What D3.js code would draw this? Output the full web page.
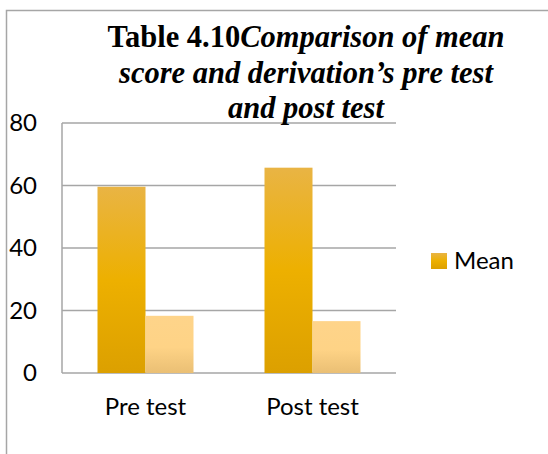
<!DOCTYPE html>
<html>
<head>
<meta charset="utf-8">
<script src="https://cdn.jsdelivr.net/npm/d3@7"></script>
<style>
  body { margin: 0; background: #fff; }
  text { font-family: Lato, "Open Sans", sans-serif; fill: #000; }
  .title { font-family: "Liberation Serif", "Times New Roman", serif; font-weight: bold; }
</style>
</head>
<body>
<div id="dataviz_area"></div>
<script>
var categories = ["Pre test", "Post test"];
var series = ["Mean", "SD"];
var mean_values = [59.6, 65.7];
var sd_values = [18.3, 16.6];
var y_ticks = [0, 20, 40, 60, 80];
var legend_items = ["Mean"];

var W = 548, H = 454;
var margin = {top: 123, right: 152, bottom: 81, left: 62},
    width = W - margin.left - margin.right,
    height = H - margin.top - margin.bottom;

var svg = d3.select("#dataviz_area")
    .append("svg")
    .attr("width", W)
    .attr("height", H);

// gradients for the two series
var defs = svg.append("defs");
var grads = [
    {id: "g_mean", stops: [[0, "#e9b444"], [0.5, "#edb000"], [1, "#dca000"]]},
    {id: "g_sd", stops: [[0, "#fed48a"], [0.55, "#fed386"], [1, "#eabf74"]]}
];
grads.forEach(function(g) {
    var lg = defs.append("linearGradient")
	.attr("id", g.id)
	.attr("x1", 0).attr("y1", 0)
	.attr("x2", 0).attr("y2", 1);
    g.stops.forEach(function(s) {
	lg.append("stop").attr("offset", s[0]).attr("stop-color", s[1]);
    });
});

// outer frame, only the left and top show
svg.append("rect")
    .attr("x", 6.5).attr("y", 10.5)
    .attr("width", 700).attr("height", 600)
    .attr("fill", "none")
    .attr("stroke", "#a6a6a6")
    .attr("stroke-width", 1.5);

var canvas = svg.append("g")
    .attr("transform", "translate(" + margin.left + "," + margin.top + ")");

var scale_x = d3.scaleBand()
    .domain(categories)
    .range([0, width]);

var scale_y = d3.scaleLinear()
    .domain([0, 80])
    .range([height, 0]);

var scale_s = d3.scaleBand()
    .domain(series)
    .range([0, 96]);

// gridlines
canvas.append("g")
    .selectAll("line")
    .data(y_ticks)
    .enter()
    .append("line")
    .attr("x1", 0)
    .attr("x2", width)
    .attr("y1", function(d) { return scale_y(d) })
    .attr("y2", function(d) { return scale_y(d) })
    .attr("stroke", "#a6a6a6")
    .attr("stroke-width", 1.5);

canvas.append("line")
    .attr("x1", 0).attr("x2", 0)
    .attr("y1", scale_y(80)).attr("y2", scale_y(0))
    .attr("stroke", "#a6a6a6")
    .attr("stroke-width", 1.5);

// tick labels
canvas.append("g")
    .selectAll("text")
    .data(y_ticks)
    .enter()
    .append("text")
    .attr("x", -25)
    .attr("y", function(d) { return scale_y(d) })
    .attr("dy", "0.35em")
    .attr("text-anchor", "end")
    .attr("font-size", 24)
    .text(function(d) { return d; });

// bars
var rows = categories.map(function(c, i) {
    return [{cat: c, s: "Mean", v: mean_values[i], fill: "url(#g_mean)"},
	    {cat: c, s: "SD", v: sd_values[i], fill: "url(#g_sd)"}];
});

canvas.append("g")
    .selectAll("g")
    .data(rows)
    .enter()
    .append("g")
    .attr("transform", function(d) {
	return "translate(" + (scale_x(d[0].cat) + scale_x.bandwidth() / 2 - 48) + ",0)";
    })
    .selectAll("rect")
    .data(function(d) { return d; })
    .enter()
    .append("rect")
    .attr("x", function(d) { return scale_s(d.s) })
    .attr("width", scale_s.bandwidth())
    .attr("y", function(d) { return scale_y(d.v) })
    .attr("height", function(d) { return scale_y(0) - scale_y(d.v) })
    .attr("fill", function(d) { return d.fill });

// category labels
canvas.append("g")
    .selectAll("text")
    .data(categories)
    .enter()
    .append("text")
    .attr("x", function(d) { return scale_x(d) + scale_x.bandwidth() / 2 })
    .attr("y", height + 42)
    .attr("text-anchor", "middle")
    .attr("font-size", 24)
    .text(function(d) { return d; });

// legend
var legend = svg.append("g")
    .attr("transform", "translate(431,253)");
legend.selectAll("rect")
    .data(legend_items)
    .enter()
    .append("rect")
    .attr("width", 16).attr("height", 16)
    .attr("fill", "url(#g_mean)");
legend.selectAll("text")
    .data(legend_items)
    .enter()
    .append("text")
    .attr("x", 23).attr("y", 15.5)
    .attr("font-size", 24)
    .text(function(d) { return d; });

// title box sits over the top gridline
var title_lines = [
    [{t: "Table 4.10", it: false}, {t: "Comparison of mean", it: true}],
    [{t: "score and derivation\u2019s pre test", it: true}],
    [{t: "and post test", it: true}]
];
svg.append("rect")
    .attr("x", 378).attr("y", 100)
    .attr("width", 40).attr("height", 22)
    .attr("fill", "#fff");
var title = svg.append("text")
    .attr("class", "title")
    .attr("text-anchor", "middle")
    .attr("font-size", 30.5);
title_lines.forEach(function(line, i) {
    line.forEach(function(part, j) {
	var ts = title.append("tspan")
	    .attr("font-style", part.it ? "italic" : "normal")
	    .text(part.t);
	if (j == 0) ts.attr("x", 306).attr("y", 47 + i * 35.5);
    });
});
</script>
</body>
</html>
